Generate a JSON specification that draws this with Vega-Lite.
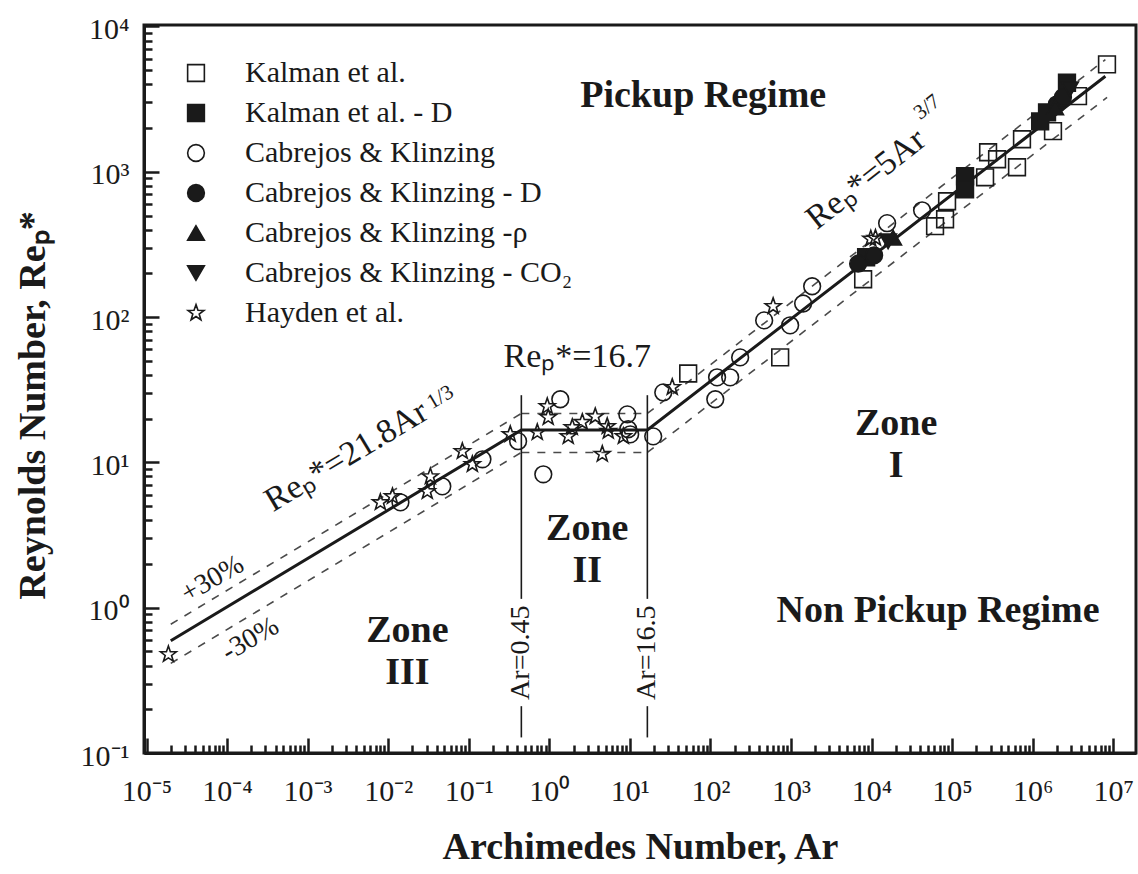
{
  "$schema": "https://vega.github.io/schema/vega-lite/v6.json",
  "width": 992,
  "height": 728,
  "autosize": "none",
  "padding": {"left": 144, "top": 25, "right": 2, "bottom": 121},
  "background": "white",
  "config": {
    "font": "Liberation Serif",
    "view": {"stroke": "#1a1a1a", "strokeWidth": 3},
    "axis": {
      "domainColor": "#1a1a1a", "domainWidth": 3, "tickColor": "#1a1a1a", "tickWidth": 2.5,
      "labelColor": "#1a1a1a", "labelFont": "Liberation Serif", "labelFontSize": 30,
      "titleFont": "Liberation Serif", "titleFontSize": 38, "titleFontWeight": "bold", "titleColor": "#1a1a1a",
      "grid": false, "labelOverlap": false, "labelFlush": false, "labelBound": false
    },
    "text": {"font": "Liberation Serif", "color": "#1a1a1a"}
  },
  "datasets": {
    "points": [
      {"series": "Kalman et al.", "Ar": 53, "Re": 40.9},
      {"series": "Kalman et al.", "Ar": 735, "Re": 52.8},
      {"series": "Kalman et al.", "Ar": 7870, "Re": 182},
      {"series": "Kalman et al.", "Ar": 61500, "Re": 422},
      {"series": "Kalman et al.", "Ar": 81900, "Re": 471},
      {"series": "Kalman et al.", "Ar": 86700, "Re": 627},
      {"series": "Kalman et al.", "Ar": 257000, "Re": 916},
      {"series": "Kalman et al.", "Ar": 280000, "Re": 1362},
      {"series": "Kalman et al.", "Ar": 362000, "Re": 1219},
      {"series": "Kalman et al.", "Ar": 640000, "Re": 1074},
      {"series": "Kalman et al.", "Ar": 738000, "Re": 1675},
      {"series": "Kalman et al.", "Ar": 1790000, "Re": 1902},
      {"series": "Kalman et al.", "Ar": 3660000, "Re": 3314},
      {"series": "Kalman et al.", "Ar": 8380000, "Re": 5485},
      {"series": "Kalman et al. - D", "Ar": 145000, "Re": 931},
      {"series": "Kalman et al. - D", "Ar": 145000, "Re": 757},
      {"series": "Kalman et al. - D", "Ar": 1240000, "Re": 2223},
      {"series": "Kalman et al. - D", "Ar": 1510000, "Re": 2565},
      {"series": "Kalman et al. - D", "Ar": 2670000, "Re": 4100},
      {"series": "Kalman et al. - D", "Ar": 8570, "Re": 258},
      {"series": "Cabrejos & Klinzing", "Ar": 0.0142, "Re": 5.31},
      {"series": "Cabrejos & Klinzing", "Ar": 0.047, "Re": 6.84},
      {"series": "Cabrejos & Klinzing", "Ar": 0.148, "Re": 10.5},
      {"series": "Cabrejos & Klinzing", "Ar": 0.41, "Re": 14.0},
      {"series": "Cabrejos & Klinzing", "Ar": 1.37, "Re": 27.2},
      {"series": "Cabrejos & Klinzing", "Ar": 9.3, "Re": 21.4},
      {"series": "Cabrejos & Klinzing", "Ar": 9.55, "Re": 16.9},
      {"series": "Cabrejos & Klinzing", "Ar": 10.1, "Re": 15.6},
      {"series": "Cabrejos & Klinzing", "Ar": 0.843, "Re": 8.28},
      {"series": "Cabrejos & Klinzing", "Ar": 19.5, "Re": 15.1},
      {"series": "Cabrejos & Klinzing", "Ar": 26, "Re": 30.3},
      {"series": "Cabrejos & Klinzing", "Ar": 121, "Re": 38.5},
      {"series": "Cabrejos & Klinzing", "Ar": 176, "Re": 38.5},
      {"series": "Cabrejos & Klinzing", "Ar": 115, "Re": 27.2},
      {"series": "Cabrejos & Klinzing", "Ar": 234, "Re": 52.8},
      {"series": "Cabrejos & Klinzing", "Ar": 465, "Re": 94.9},
      {"series": "Cabrejos & Klinzing", "Ar": 977, "Re": 87.7},
      {"series": "Cabrejos & Klinzing", "Ar": 1416, "Re": 124},
      {"series": "Cabrejos & Klinzing", "Ar": 1833, "Re": 163},
      {"series": "Cabrejos & Klinzing", "Ar": 15620, "Re": 443},
      {"series": "Cabrejos & Klinzing", "Ar": 42440, "Re": 543},
      {"series": "Cabrejos & Klinzing - D", "Ar": 6820, "Re": 233},
      {"series": "Cabrejos & Klinzing - D", "Ar": 10770, "Re": 266},
      {"series": "Cabrejos & Klinzing - D", "Ar": 2000000, "Re": 2912},
      {"series": "Cabrejos & Klinzing - D", "Ar": 2380000, "Re": 3260},
      {"series": "Cabrejos & Klinzing -ρ", "Ar": 18530, "Re": 352},
      {"series": "Cabrejos & Klinzing -ρ", "Ar": 1900000, "Re": 2770},
      {"series": "Cabrejos & Klinzing - CO₂", "Ar": 16070, "Re": 332},
      {"series": "Cabrejos & Klinzing - CO₂", "Ar": 2910000, "Re": 3700},
      {"series": "Hayden et al.", "Ar": 1.87e-5, "Re": 0.477},
      {"series": "Hayden et al.", "Ar": 0.008, "Re": 5.31},
      {"series": "Hayden et al.", "Ar": 0.0113, "Re": 5.83},
      {"series": "Hayden et al.", "Ar": 0.0334, "Re": 8.0},
      {"series": "Hayden et al.", "Ar": 0.0306, "Re": 6.31},
      {"series": "Hayden et al.", "Ar": 0.0833, "Re": 11.9},
      {"series": "Hayden et al.", "Ar": 0.111, "Re": 9.7},
      {"series": "Hayden et al.", "Ar": 0.328, "Re": 15.6},
      {"series": "Hayden et al.", "Ar": 0.71, "Re": 16.1},
      {"series": "Hayden et al.", "Ar": 0.944, "Re": 24.3},
      {"series": "Hayden et al.", "Ar": 0.97, "Re": 20.4},
      {"series": "Hayden et al.", "Ar": 1.72, "Re": 15.1},
      {"series": "Hayden et al.", "Ar": 1.93, "Re": 17.4},
      {"series": "Hayden et al.", "Ar": 2.57, "Re": 18.9},
      {"series": "Hayden et al.", "Ar": 3.72, "Re": 20.7},
      {"series": "Hayden et al.", "Ar": 5.24, "Re": 17.7},
      {"series": "Hayden et al.", "Ar": 5.4, "Re": 16.4},
      {"series": "Hayden et al.", "Ar": 8.3, "Re": 15.1},
      {"series": "Hayden et al.", "Ar": 4.55, "Re": 11.4},
      {"series": "Hayden et al.", "Ar": 33.6, "Re": 32.9},
      {"series": "Hayden et al.", "Ar": 601, "Re": 118.7},
      {"series": "Hayden et al.", "Ar": 9800, "Re": 345},
      {"series": "Hayden et al.", "Ar": 11200, "Re": 350}
    ],
    "mainline": [
      {"Ar": 2e-5, "Re": 0.592},
      {"Ar": 0.45, "Re": 16.7},
      {"Ar": 16.5, "Re": 16.7},
      {"Ar": 8000000, "Re": 4546}
    ],
    "dashed": [
      {"seg": "A", "Ar": 2e-5, "Re": 0.769},
      {"seg": "A", "Ar": 0.45, "Re": 21.7},
      {"seg": "B", "Ar": 2e-5, "Re": 0.414},
      {"seg": "B", "Ar": 0.45, "Re": 11.7},
      {"seg": "C", "Ar": 0.45, "Re": 21.7},
      {"seg": "C", "Ar": 16.5, "Re": 21.7},
      {"seg": "D", "Ar": 0.45, "Re": 11.7},
      {"seg": "D", "Ar": 16.5, "Re": 11.7},
      {"seg": "E", "Ar": 16.5, "Re": 21.7},
      {"seg": "E", "Ar": 8000000, "Re": 5910},
      {"seg": "F", "Ar": 16.5, "Re": 11.7},
      {"seg": "F", "Ar": 8400000, "Re": 3250}
    ],
    "vrules": [
      {"Ar": 0.45, "Re": 29, "Re2": 1.15},
      {"Ar": 0.45, "Re": 0.21, "Re2": 0.128},
      {"Ar": 16.5, "Re": 29, "Re2": 1.15},
      {"Ar": 16.5, "Re": 0.21, "Re2": 0.128}
    ],
    "boldText": [
      {"label": "Pickup Regime", "Ar": 81.4, "Re": 3300},
      {"label": "Non Pickup Regime", "Ar": 67000, "Re": 0.943},
      {"label": "Zone\nI", "Ar": 20200, "Re": 18.3},
      {"label": "Zone\nII", "Ar": 2.96, "Re": 3.46},
      {"label": "Zone\nIII", "Ar": 0.0173, "Re": 0.687}
    ],
    "eqFlat": [{"label": "Reₚ*=16.7", "Ar": 2.22, "Re": 52.8}],
    "eqIII": [{"label": "Reₚ*=21.8Ar", "Ar": 0.00303, "Re": 11.0}],
    "expIII": [{"label": "1/3", "Ar": 0.0444, "Re": 28.0}],
    "eqI": [{"label": "Reₚ*=5Ar", "Ar": 8570, "Re": 887}],
    "expI": [{"label": "3/7", "Ar": 48900, "Re": 2780}],
    "pct": [
      {"label": "+30%", "Ar": 6.6e-5, "Re": 1.57},
      {"label": "-30%", "Ar": 1.95e-4, "Re": 0.605}
    ],
    "arLabels": [
      {"label": "Ar=0.45", "Ar": 0.45, "Re": 0.49},
      {"label": "Ar=16.5", "Ar": 16.5, "Re": 0.49}
    ]
  },
  "encoding": {
    "x": {
      "field": "Ar", "type": "quantitative",
      "scale": {"type": "log", "domain": [9.31e-6, 1.92e7], "nice": false},
      "axis": {
        "title": "Archimedes Number, Ar",
        "values": [1e-5,2e-5,3e-5,4e-5,5e-5,6e-5,7e-5,8e-5,9e-5,1e-4,2e-4,3e-4,4e-4,5e-4,6e-4,7e-4,8e-4,9e-4,0.001,0.002,0.003,0.004,0.005,0.006,0.007,0.008,0.009,0.01,0.02,0.03,0.04,0.05,0.06,0.07,0.08,0.09,0.1,0.2,0.3,0.4,0.5,0.6,0.7,0.8,0.9,1,2,3,4,5,6,7,8,9,10,20,30,40,50,60,70,80,90,100,200,300,400,500,600,700,800,900,1000,2000,3000,4000,5000,6000,7000,8000,9000,10000,20000,30000,40000,50000,60000,70000,80000,90000,100000,200000,300000,400000,500000,600000,700000,800000,900000,1000000,2000000,3000000,4000000,5000000,6000000,7000000,8000000,9000000,10000000],
        "tickSize": {"condition": {"test": "abs(log(datum.value)/LN10 - round(log(datum.value)/LN10)) < 0.001", "value": -15}, "value": -8},
        "labelPadding": 38,
        "labelExpr": "abs(log(datum.value)/LN10 - round(log(datum.value)/LN10)) > 0.001 ? '' : '10' + replace(replace(replace(replace(replace(replace(replace(replace(replace(replace(replace('' + round(log(datum.value)/LN10), '-', '⁻'), '0', '⁰'), '1', '¹'), '2', '²'), '3', '³'), '4', '⁴'), '5', '⁵'), '6', '⁶'), '7', '⁷'), '8', '⁸'), '9', '⁹')",
        "titleX": 496, "titleY": 105, "titleBaseline": "alphabetic", "titleAlign": "center"
      }
    },
    "y": {
      "field": "Re", "type": "quantitative",
      "scale": {"type": "log", "domain": [0.1, 10233], "nice": false},
      "axis": {
        "title": "Reynolds Number, Reₚ*",
        "values": [0.1,0.2,0.3,0.4,0.5,0.6,0.7,0.8,0.9,1,2,3,4,5,6,7,8,9,10,20,30,40,50,60,70,80,90,100,200,300,400,500,600,700,800,900,1000,2000,3000,4000,5000,6000,7000,8000,9000,10000],
        "tickSize": {"condition": {"test": "abs(log(datum.value)/LN10 - round(log(datum.value)/LN10)) < 0.001", "value": -15}, "value": -8},
        "labelPadding": 30,
        "labelOffset": 3,
        "labelExpr": "abs(log(datum.value)/LN10 - round(log(datum.value)/LN10)) > 0.001 ? '' : '10' + replace(replace(replace(replace(replace(replace(replace(replace(replace(replace(replace('' + round(log(datum.value)/LN10), '-', '⁻'), '0', '⁰'), '1', '¹'), '2', '²'), '3', '³'), '4', '⁴'), '5', '⁵'), '6', '⁶'), '7', '⁷'), '8', '⁸'), '9', '⁹')",
        "titleX": -111, "titleY": 380, "titleAngle": 270, "titleBaseline": "middle", "titleAlign": "center"
      }
    }
  },
  "layer": [
    {
      "data": {"name": "dashed"},
      "mark": {"type": "line", "stroke": "#4a4a4a", "strokeWidth": 1.6, "strokeDash": [8, 8]},
      "encoding": {"detail": {"field": "seg", "type": "nominal"}}
    },
    {
      "data": {"name": "mainline"},
      "mark": {"type": "line", "stroke": "#1a1a1a", "strokeWidth": 3}
    },
    {
      "data": {"name": "vrules"},
      "mark": {"type": "rule", "stroke": "#1a1a1a", "strokeWidth": 1.6},
      "encoding": {"y2": {"field": "Re2"}}
    },
    {
      "data": {"name": "points"},
      "mark": {"type": "point", "filled": true, "strokeWidth": 1.6, "size": 280, "opacity": 1},
      "encoding": {
        "shape": {
          "field": "series", "type": "nominal",
          "scale": {
            "domain": ["Kalman et al.", "Kalman et al. - D", "Cabrejos & Klinzing", "Cabrejos & Klinzing - D", "Cabrejos & Klinzing -ρ", "Cabrejos & Klinzing - CO₂", "Hayden et al."],
            "range": ["square", "square", "circle", "circle", "triangle-up", "triangle-down", "M0,-1L0.235,-0.324L0.951,-0.309L0.38,0.124L0.588,0.809L0,0.42L-0.588,0.809L-0.38,0.124L-0.951,-0.309L-0.235,-0.324Z"]
          },
          "legend": {"title": null, "orient": "none", "legendX": 37, "legendY": 33, "padding": 0, "labelFont": "Liberation Serif", "labelFontSize": 30, "labelColor": "#1a1a1a", "symbolSize": 280, "symbolStrokeWidth": 1.6, "labelOffset": 34, "rowPadding": 10, "labelLimit": 0}
        },
        "fill": {
          "field": "series", "type": "nominal",
          "scale": {
            "domain": ["Kalman et al.", "Kalman et al. - D", "Cabrejos & Klinzing", "Cabrejos & Klinzing - D", "Cabrejos & Klinzing -ρ", "Cabrejos & Klinzing - CO₂", "Hayden et al."],
            "range": ["transparent", "#1a1a1a", "transparent", "#1a1a1a", "#1a1a1a", "#1a1a1a", "transparent"]
          },
          "legend": {"title": null, "orient": "none", "legendX": 37, "legendY": 33, "padding": 0, "labelFont": "Liberation Serif", "labelFontSize": 30, "labelColor": "#1a1a1a", "symbolSize": 280, "symbolStrokeWidth": 1.6, "labelOffset": 34, "rowPadding": 10, "labelLimit": 0}
        },
        "stroke": {
          "field": "series", "type": "nominal",
          "scale": {
            "domain": ["Kalman et al.", "Kalman et al. - D", "Cabrejos & Klinzing", "Cabrejos & Klinzing - D", "Cabrejos & Klinzing -ρ", "Cabrejos & Klinzing - CO₂", "Hayden et al."],
            "range": ["#1a1a1a", "#1a1a1a", "#1a1a1a", "#1a1a1a", "#1a1a1a", "#1a1a1a", "#1a1a1a"]
          },
          "legend": {"title": null, "orient": "none", "legendX": 37, "legendY": 33, "padding": 0, "labelFont": "Liberation Serif", "labelFontSize": 30, "labelColor": "#1a1a1a", "symbolSize": 280, "symbolStrokeWidth": 1.6, "labelOffset": 34, "rowPadding": 10, "labelLimit": 0}
        }
      }
    },
    {
      "data": {"name": "boldText"},
      "mark": {"type": "text", "fontSize": 38, "fontWeight": "bold", "align": "center", "baseline": "middle", "lineBreak": "\n", "lineHeight": 42},
      "encoding": {"text": {"field": "label"}}
    },
    {
      "data": {"name": "eqFlat"},
      "mark": {"type": "text", "fontSize": 34, "align": "center", "baseline": "middle"},
      "encoding": {"text": {"field": "label"}}
    },
    {
      "data": {"name": "eqIII"},
      "mark": {"type": "text", "fontSize": 34, "align": "center", "baseline": "middle", "angle": -31},
      "encoding": {"text": {"field": "label"}}
    },
    {
      "data": {"name": "expIII"},
      "mark": {"type": "text", "fontSize": 21, "align": "center", "baseline": "middle", "angle": -31},
      "encoding": {"text": {"field": "label"}}
    },
    {
      "data": {"name": "eqI"},
      "mark": {"type": "text", "fontSize": 34, "align": "center", "baseline": "middle", "angle": -38},
      "encoding": {"text": {"field": "label"}}
    },
    {
      "data": {"name": "expI"},
      "mark": {"type": "text", "fontSize": 21, "align": "center", "baseline": "middle", "angle": -38},
      "encoding": {"text": {"field": "label"}}
    },
    {
      "data": {"name": "pct"},
      "mark": {"type": "text", "fontSize": 28, "align": "center", "baseline": "middle", "angle": -30},
      "encoding": {"text": {"field": "label"}}
    },
    {
      "data": {"name": "arLabels"},
      "mark": {"type": "text", "fontSize": 28, "align": "center", "baseline": "middle", "angle": -90},
      "encoding": {"text": {"field": "label"}}
    }
  ]
}
